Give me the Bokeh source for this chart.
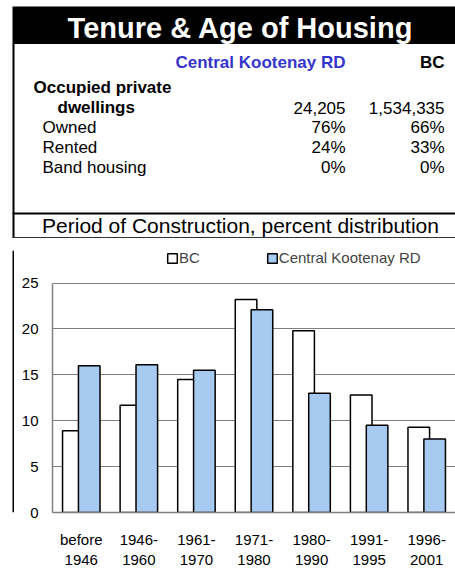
from bokeh.plotting import figure
from bokeh.models import Range1d, FactorRange, Legend, FixedTicker
from bokeh.layouts import column, row
from bokeh.transform import dodge
from bokeh.core.properties import value
from bokeh.embed import file_html
from bokeh.resources import INLINE

# ---- data ----
title = "Tenure & Age of Housing"
subtitle = "Period of Construction, percent distribution"
regions = ["Central Kootenay RD", "BC"]
dwellings = ["24,205", "1,534,335"]
owned = ["76%", "66%"]
rented = ["24%", "33%"]
band = ["0%", "0%"]
row_labels = ["Owned", "Rented", "Band housing"]

periods = ["before\n1946", "1946-\n1960", "1961-\n1970", "1971-\n1980",
           "1980-\n1990", "1991-\n1995", "1996-\n2001"]
bc_pct = [8.9, 11.7, 14.5, 23.2, 19.8, 12.8, 9.3]
ck_pct = [16.0, 16.1, 15.5, 22.1, 13.0, 9.5, 8.0]
y_ticks = [0, 5, 10, 15, 20, 25]

FONT = value("Liberation Sans")
W = 455
H1 = 238
H2 = 333

# ---- header / table figure (pixel-like coordinates, y downward) ----
p1 = figure(width=W, height=H1, x_range=Range1d(0, W), y_range=Range1d(H1, 0),
            output_backend="svg", toolbar_location=None,
            x_axis_location=None, y_axis_location=None,
            min_border=0, outline_line_color=None)
p1.grid.visible = False
# black banner
p1.quad(left=12, right=W, top=6, bottom=43.5, fill_color="black", line_color=None)
p1.text(x=[240], y=[27], text=[title], text_color="white", text_font=FONT,
        text_font_style="bold", text_font_size="29px", text_align="center",
        text_baseline="alphabetic")
# left border
p1.quad(left=12, right=14, top=43, bottom=H1, fill_color="black", line_color=None)
# column headers
p1.text(x=[345], y=[62], text=[regions[0]], text_color="#3535CC", text_font=FONT,
        text_font_style="bold", text_font_size="17px", text_align="right",
        text_baseline="alphabetic")
p1.text(x=[444], y=[62], text=[regions[1]], text_color="black", text_font=FONT,
        text_font_style="bold", text_font_size="17px", text_align="right",
        text_baseline="alphabetic")
# row headers
p1.text(x=[33, 57], y=[87, 107], text=["Occupied private", "dwellings"],
        text_color="black", text_font=FONT, text_font_style="bold",
        text_font_size="17px", text_align="left", text_baseline="alphabetic")
p1.text(x=[42, 42, 42], y=[127, 147, 167], text=row_labels, text_color="black",
        text_font=FONT, text_font_size="17px", text_align="left",
        text_baseline="alphabetic")
# values
col_x = [345, 444]
for i in range(2):
    p1.text(x=[col_x[i]] * 4, y=[107, 127, 147, 167],
            text=[dwellings[i], owned[i], rented[i], band[i]],
            text_color="black", text_font=FONT, text_font_size="17px",
            text_align="right", text_baseline="alphabetic")
# separator lines and subtitle
p1.quad(left=12, right=W, top=212, bottom=214, fill_color="black", line_color=None)
p1.text(x=[240], y=[225], text=[subtitle], text_color="black", text_font=FONT,
        text_font_size="21px", text_align="center", text_baseline="alphabetic")
p1.quad(left=12, right=W, top=236.5, bottom=238, fill_color="#333333", line_color=None)

# ---- left border strip for chart area ----
pb = figure(width=14, height=H2, x_range=Range1d(0, 14), y_range=Range1d(0, H2),
            output_backend="svg", toolbar_location=None,
            x_axis_location=None, y_axis_location=None,
            min_border=0, outline_line_color=None)
pb.grid.visible = False
pb.quad(left=12, right=14, top=H2, bottom=0, fill_color="black", line_color=None)

# ---- bar chart ----
p2 = figure(width=W - 14, height=H2, x_range=FactorRange(*periods),
            y_range=Range1d(0, 28.55), output_backend="svg", toolbar_location=None,
            min_border_left=38, min_border_right=0, min_border_top=12,
            min_border_bottom=59, outline_line_color=None)
data = dict(cat=periods, bc=bc_pct, ck=ck_pct)
r1 = p2.vbar(x=dodge("cat", -0.138, range=p2.x_range), top="bc", width=0.375,
             source=data, fill_color="white", line_color="black", line_width=1.5)
r2 = p2.vbar(x=dodge("cat", 0.138, range=p2.x_range), top="ck", width=0.375,
             source=data, fill_color="#A6CAF0", line_color="black", line_width=1.5)

p2.xgrid.visible = False
p2.ygrid.grid_line_color = "#808080"
p2.ygrid.grid_line_width = 1
p2.yaxis.ticker = FixedTicker(ticks=y_ticks)
p2.ygrid.ticker = FixedTicker(ticks=y_ticks)
p2.yaxis.bounds = (0, 25)
for ax in (p2.xaxis[0], p2.yaxis[0]):
    ax.axis_line_color = "#808080"
    ax.axis_line_width = 1.5
    ax.major_tick_line_color = None
    ax.minor_tick_line_color = None
    ax.major_tick_out = 0
    ax.major_tick_in = 0
    ax.major_label_text_font = "Liberation Sans"
    ax.major_label_text_font_size = "15px"
    ax.major_label_text_color = "black"
p2.yaxis.major_label_standoff = 14
p2.xaxis.major_label_standoff = 18

legend = Legend(items=[("BC", [r1]), ("Central Kootenay RD", [r2])],
                orientation="horizontal", location=(114, 246),
                border_line_color=None, background_fill_alpha=0,
                padding=0, margin=0, spacing=66, glyph_width=12, glyph_height=12,
                label_standoff=1, label_height=12,
                label_text_font="Liberation Sans", label_text_font_size="15px")
p2.add_layout(legend)

layout = column(p1, row(pb, p2, spacing=0), spacing=0)
open("out.html", "w").write(file_html(layout, INLINE))
